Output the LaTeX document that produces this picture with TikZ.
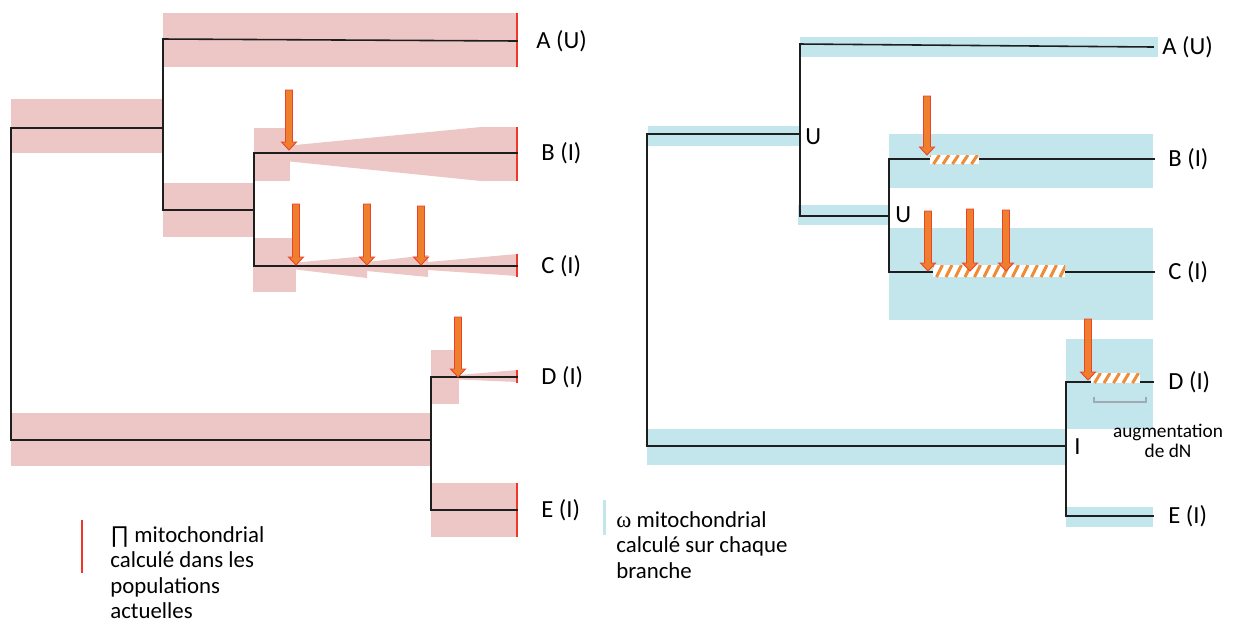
\documentclass[tikz,border=0pt]{standalone}
\usepackage{fontspec}
\setmainfont{Carlito}
\newfontfamily\prodfont{Liberation Sans}
\newfontfamily\omegafont{Liberation Serif}
\usepackage{tikz}
\usetikzlibrary{positioning}
\definecolor{pibg}{RGB}{236,199,197}
\definecolor{omegabg}{RGB}{195,229,236}
\definecolor{mutfill}{RGB}{238,127,45}
\definecolor{mutedge}{RGB}{235,65,45}
\definecolor{hatchcol}{RGB}{240,140,55}
\definecolor{tickred}{RGB}{240,55,40}
\definecolor{brackgrey}{RGB}{160,170,178}
\definecolor{treeline}{RGB}{30,30,30}
\tikzset{
  piband/.style={fill=pibg, draw=none},
  omband/.style={fill=omegabg, draw=none},
  br/.style={draw=treeline, line width=0.9pt, line cap=rect},
  pitick/.style={draw=tickred, line width=0.8pt},
  mutarr/.style={fill=mutfill, draw=mutedge, line width=0.5pt, line join=miter},
  hatchline/.style={draw=hatchcol, line width=1.7pt},
  lbl/.style={font=\fontsize{14}{16}\selectfont, inner sep=0pt},
  legtxt/.style={font=\fontsize{13}{14.5}\selectfont, align=left, inner sep=0pt},
  smalltxt/.style={font=\fontsize{11}{11.5}\selectfont, align=center, inner sep=0pt}
}
% block arrow: x, top y, tip y (pixel units, y downwards)
\newcommand{\mutarrow}[3]{%
  \filldraw[mutarr] (#1-3.5,#2) -- (#1+3.5,#2) -- (#1+3.5,#3-8) -- (#1+7.5,#3-8)
    -- (#1,#3) -- (#1-7.5,#3-8) -- (#1-3.5,#3-8) -- cycle;}
% hatched bar: x1, x2, y1, y2
\newcommand{\hatchbar}[4]{%
  \fill[white] (#1,#3) rectangle (#2,#4);
  \begin{scope}
    \clip (#1,#3) rectangle (#2,#4);
    \foreach \k in {0,...,15}
      \draw[hatchline] ({#1-6+\k*9.5},#4) -- ({#1+\k*9.5},#3);
  \end{scope}}

\begin{document}
\begin{tikzpicture}[x=0.2mm, y=-0.2mm]
  \useasboundingbox (0,0) rectangle (1234,625);

  % ---- left tree (pi)
  \fill[piband] (11,99) rectangle (163,153);
  \fill[piband] (163,13) rectangle (517,67);
  \fill[piband] (163,183) rectangle (253,237);
  \fill[piband] (254,128) rectangle (290,181);
  \fill[piband] (290,145.5) -- (481,127) -- (481,181) -- (290,161.5) -- cycle;
  \fill[piband] (481,127) rectangle (517,181);
  \fill[piband] (253,238) rectangle (296,292);
  \fill[piband] (296,262.5) -- (367,256) -- (367,278) -- (296,269.5) -- cycle;
  \fill[piband] (367,262) -- (428,255) -- (428,277) -- (367,271) -- cycle;
  \fill[piband] (428,262) -- (517,254) -- (517,276) -- (428,270) -- cycle;
  \fill[piband] (11,413) rectangle (431,466);
  \fill[piband] (431,350) rectangle (459,404);
  \fill[piband] (459,375) -- (517,370) -- (517,382) -- (459,379.5) -- cycle;
  \fill[piband] (431,483) rectangle (517,537);

  \coordinate (l0a) at (11,128);
  \coordinate (l0b) at (11,440);
  \coordinate (l1a) at (163,39);
  \coordinate (l1b) at (163,210);
  \coordinate (l2a) at (254,153);
  \coordinate (l2b) at (254,266);
  \coordinate (l3a) at (431,377);
  \coordinate (l3b) at (431,510);
  \coordinate (lA) at (517,41);
  \coordinate (lB) at (517,153);
  \coordinate (lC) at (517,266);
  \coordinate (lD) at (517,377);
  \coordinate (lE) at (517,510);

  \draw[pitick] (517,13) -- (517,67);
  \draw[pitick] (517,127) -- (517,181);
  \draw[pitick] (517,254) -- (517,277);
  \draw[pitick] (517,370) -- (517,383);
  \draw[pitick] (517,483) -- (517,537);

  \draw[br] (l0a) -- (l0b);
  \draw[br] (l0a) -- (l0a -| l1a);
  \draw[br] (lA) -- (l1a) -- (l1b) -- (l1b -| l2a);
  \draw[br] (lB) -- (l2a) -- (l2b) -- (lC);
  \draw[br] (l0b) -- (l0b -| l3a);
  \draw[br] (lD) -- (l3a) -- (l3b) -- (lE);

  \mutarrow{289}{90}{150}
  \mutarrow{296}{204}{265}
  \mutarrow{367}{204}{265}
  \mutarrow{421}{206}{265}
  \mutarrow{458}{317}{377}

  \node[lbl, right=3.8mm of lA] (labLA) {A (U)};
  \node[lbl, right=4.8mm of lB] (labLB) {B (I)};
  \node[lbl, right=4.8mm of lC] (labLC) {C (I)};
  \node[lbl, right=4.8mm of lD] (labLD) {D (I)};
  \node[lbl, right=4.8mm of lE] (labLE) {E (I)};

  % ---- right tree (omega)
  \fill[omband] (648,126) rectangle (800,146);
  \fill[omband] (800,37) rectangle (1158,57);
  \fill[omband] (798,205) rectangle (889,225);
  \fill[omband] (889,134) rectangle (1153,188);
  \fill[omband] (889,228) rectangle (1153,320);
  \fill[omband] (1066,339) rectangle (1153,429);
  \fill[omband] (647,429) rectangle (1066,465);
  \fill[omband] (1066,507) rectangle (1153,527);

  \coordinate (r0a) at (647,134);
  \coordinate (r0b) at (647,446);
  \coordinate (r1a) at (800,44);
  \coordinate (r1b) at (800,216);
  \coordinate (r2a) at (889,159);
  \coordinate (r2b) at (889,272);
  \coordinate (r3a) at (1066,382);
  \coordinate (r3b) at (1066,516);
  \coordinate (rA) at (1153,47);
  \coordinate (rB) at (1154,159);
  \coordinate (rC) at (1154,272);
  \coordinate (rD) at (1153,382);
  \coordinate (rE) at (1153,516);

  \draw[br] (r0a) -- (r0b);
  \draw[br] (r0a) -- (r0a -| r1a);
  \draw[br] (rA) -- (r1a) -- (r1b) -- (r1b -| r2a);
  \draw[br] (rB) -- (r2a) -- (r2b) -- (rC);
  \draw[br] (r0b) -- (r0b -| r3a);
  \draw[br] (rD) -- (r3a) -- (r3b) -- (rE);

  \hatchbar{930}{979}{155}{164}
  \hatchbar{933}{1065}{265}{277}
  \hatchbar{1091}{1140}{373}{383}

  \mutarrow{927}{96}{155}
  \mutarrow{928}{211}{271}
  \mutarrow{970}{209}{271}
  \mutarrow{1006}{210}{271}
  \mutarrow{1088}{319}{380}

  \draw[brackgrey, line width=0.6pt] (1094,397) -- (1094,402) -- (1146,402) -- (1146,397);

  \node[lbl, anchor=west] (nU1) at (805,137) {U};
  \node[lbl, anchor=west] (nU2) at (895,215) {U};
  \node[lbl, anchor=west] (nI) at (1074,447) {I};

  \node[lbl, right=1.8mm of rA] (labRA) {A (U)};
  \node[lbl, right=2.8mm of rB] (labRB) {B (I)};
  \node[lbl, right=2.8mm of rC] (labRC) {C (I)};
  \node[lbl, right=3mm of rD] (labRD) {D (I)};
  \node[lbl, right=3mm of rE] (labRE) {E (I)};

  \node[smalltxt, anchor=north] (dn) at (1168,424) {augmentation\\de dN};

  % ---- legends
  \draw[tickred, line width=0.6pt] (82,520) -- (82,573);
  \node[legtxt, anchor=north west] (legpi) at (110,526)
    {{\prodfont ∏} mitochondrial\\calculé dans les\\populations\\actuelles};
  \fill[omegabg] (602.5,500) rectangle (605.5,535);
  \node[legtxt, anchor=north west] (legom) at (616,511)
    {{\omegafont ω} mitochondrial\\calculé sur chaque\\branche};
\end{tikzpicture}
\end{document}
